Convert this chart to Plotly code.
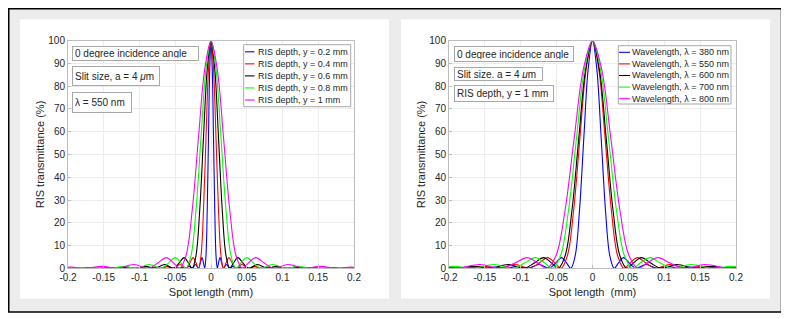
import plotly.graph_objects as go

# The page body has an 8 px margin, so the figure is drawn 8 px smaller and every
# screen-pixel position below is shifted by that offset.
SCREEN_W, SCREEN_H = 789, 319
OFF = 8
W, H = SCREEN_W - OFF, SCREEN_H - OFF
FONT = "Liberation Sans, Arial, sans-serif"
TXT = "#262626"

# ---------------- data ----------------
x_tick_vals = [-0.2, -0.15, -0.1, -0.05, 0, 0.05, 0.1, 0.15, 0.2]
x_tick_text = ["-0.2", "-0.15", "-0.1", "-0.05", "0", "0.05", "0.1", "0.15", "0.2"]
y_tick_vals = [0, 10, 20, 30, 40, 50, 60, 70, 80, 90, 100]

# left panel: RIS depth series (lambda = 550 nm)
depth_names = ["RIS depth, y = 0.2 mm", "RIS depth, y = 0.4 mm", "RIS depth, y = 0.6 mm",
               "RIS depth, y = 0.8 mm", "RIS depth, y = 1 mm"]
depth_first_null_mm = [0.0088, 0.0175, 0.0263, 0.0350, 0.0438]

# right panel: wavelength series (y = 1 mm)
wl_names = ["Wavelength, \u03bb = 380 nm", "Wavelength, \u03bb = 550 nm", "Wavelength, \u03bb = 600 nm",
            "Wavelength, \u03bb = 700 nm", "Wavelength, \u03bb = 800 nm"]
wl_first_null_mm = [0.0302, 0.0438, 0.0477, 0.0557, 0.0637]

series_colors = ["#0000ff", "#ff0000", "#000000", "#00ff00", "#ff00ff"]

# shared lobe profile:
# offset from the centre in units of the first null, transmittance in %
lobe_offset = [0, 0.2, 0.4, 0.6, 0.8, 1.0, 1.2, 1.43, 1.7, 2.0, 2.46, 3.0, 3.47, 4.0,
               4.48, 5.0, 5.49, 6.0, 6.5, 7.0, 7.5, 8.0, 40.0]
lobe_pct = [100, 87.5, 57.3, 25.5, 5.5, 0, 2.4, 4.7, 2.3, 0, 1.65, 0, 0.83, 0,
            0.5, 0, 0.34, 0, 0.24, 0, 0.18, 0, 0]

left_notes = ["0 degree incidence angle", "Slit size, a = 4 <i>\u03bc</i>m", "\u03bb = 550 nm"]
right_notes = ["0 degree incidence angle", "Slit size, a = 4 <i>\u03bc</i>m", "RIS depth, y = 1 mm"]


def px(p):
    return (p - OFF) / W


def py(p):
    return 1 - (p - OFF) / H


# ---------------- figure ----------------
fig = go.Figure()


def add_series(names, nulls, xa, ya):
    for name, z, col in zip(names, nulls, series_colors):
        xs = [-u * z for u in reversed(lobe_offset)] + [u * z for u in lobe_offset[1:]]
        ys = list(reversed(lobe_pct)) + lobe_pct[1:]
        fig.add_trace(go.Scatter(x=xs, y=ys, mode="lines", name=name,
                                 line=dict(color=col, width=1.1, shape="spline", smoothing=1.0),
                                 xaxis=xa, yaxis=ya, showlegend=False, hoverinfo="skip"))


add_series(depth_names, depth_first_null_mm, "x", "y")
add_series(wl_names, wl_first_null_mm, "x2", "y2")

ydom = [py(268.3), py(40.7)]
axis_common = dict(showline=True, mirror=True, linecolor="#bdbdbd", linewidth=1,
                   showgrid=True, gridcolor="#ececec", gridwidth=1, zeroline=False,
                   ticks="inside", ticklen=3, tickcolor="#bdbdbd", automargin=False,
                   tickfont=dict(size=10, color=TXT, family=FONT))
title_font = dict(size=11, color=TXT, family=FONT)

fig.update_layout(
    width=W, height=H, margin=dict(l=0, r=0, t=0, b=0, autoexpand=False),
    paper_bgcolor="white", plot_bgcolor="white", showlegend=False,
    xaxis=dict(domain=[px(68), px(354)], range=[-0.2, 0.2], tickvals=x_tick_vals, ticktext=x_tick_text,
               title=dict(text="Spot length (mm)", font=title_font, standoff=6),
               anchor="y", **axis_common),
    yaxis=dict(domain=ydom, range=[0, 100], tickvals=y_tick_vals,
               title=dict(text="RIS transmittance (%)", font=title_font, standoff=1),
               anchor="x", **axis_common),
    xaxis2=dict(domain=[px(449), px(736)], range=[-0.2, 0.2], tickvals=x_tick_vals, ticktext=x_tick_text,
                title=dict(text="Spot length\u00a0 (mm)", font=title_font, standoff=6),
                anchor="y2", **axis_common),
    yaxis2=dict(domain=ydom, range=[0, 100], tickvals=y_tick_vals,
                title=dict(text="RIS transmittance (%)", font=title_font, standoff=1),
                anchor="x2", **axis_common),
)

shapes = []
# outer frame and grey background
shapes.append(dict(type="rect", xref="paper", yref="paper", x0=px(8.75), x1=px(781.5), y0=py(312), y1=py(8.75),
                   line=dict(color="black", width=1.5), fillcolor="#ececec", layer="below"))
# white panels
for l, r in [(20, 389), (401, 770)]:
    shapes.append(dict(type="rect", xref="paper", yref="paper", x0=px(l), x1=px(r), y0=py(298.5), y1=py(19.5),
                       line=dict(width=0), fillcolor="white", layer="below"))

annotations = []
PAD = 2


def text_box(text, left, top, width, height):
    annotations.append(dict(text=text, xref="paper", yref="paper", x=px(left), y=py(top),
                            xanchor="left", yanchor="top", showarrow=False, align="left", valign="middle",
                            width=width - 2 * (PAD + 1), height=height - 2 * (PAD + 1),
                            bordercolor="#a8a8a8", borderwidth=1, borderpad=PAD, bgcolor="white",
                            font=dict(size=10, color=TXT, family=FONT)))


for note, (l, t, w, h) in zip(left_notes, [(72, 46, 127, 15), (72, 66, 88, 20), (72, 92, 60, 21)]):
    text_box(note, l, t, w, h)
for note, (l, t, w, h) in zip(right_notes, [(454, 46, 120, 16), (454, 67, 89, 14), (454, 85, 100, 17)]):
    text_box(note, l, t, w, h)


def legend_box(names, left, top, right, bottom, first_row, row_gap, line_x0, line_x1, text_x):
    shapes.append(dict(type="rect", xref="paper", yref="paper", x0=px(left), x1=px(right),
                       y0=py(bottom), y1=py(top), line=dict(color="#a8a8a8", width=1),
                       fillcolor="white", layer="above"))
    for i, (name, col) in enumerate(zip(names, series_colors)):
        yc = first_row + i * row_gap
        shapes.append(dict(type="line", xref="paper", yref="paper", x0=px(line_x0), x1=px(line_x1),
                           y0=py(yc), y1=py(yc), line=dict(color=col, width=1.1), layer="above"))
        annotations.append(dict(text=name, xref="paper", yref="paper", x=px(text_x), y=py(yc),
                                xanchor="left", yanchor="middle", showarrow=False,
                                font=dict(size=9, color=TXT, family=FONT)))


legend_box(depth_names, 243.7, 44.7, 350.7, 106.7, 51.8, 12.05, 245, 254.5, 255.5)
legend_box(wl_names, 618.3, 45.7, 731, 104, 52.3, 11.6, 619, 630, 630)

fig.update_layout(shapes=shapes, annotations=annotations)
fig.write_html("out.html")
